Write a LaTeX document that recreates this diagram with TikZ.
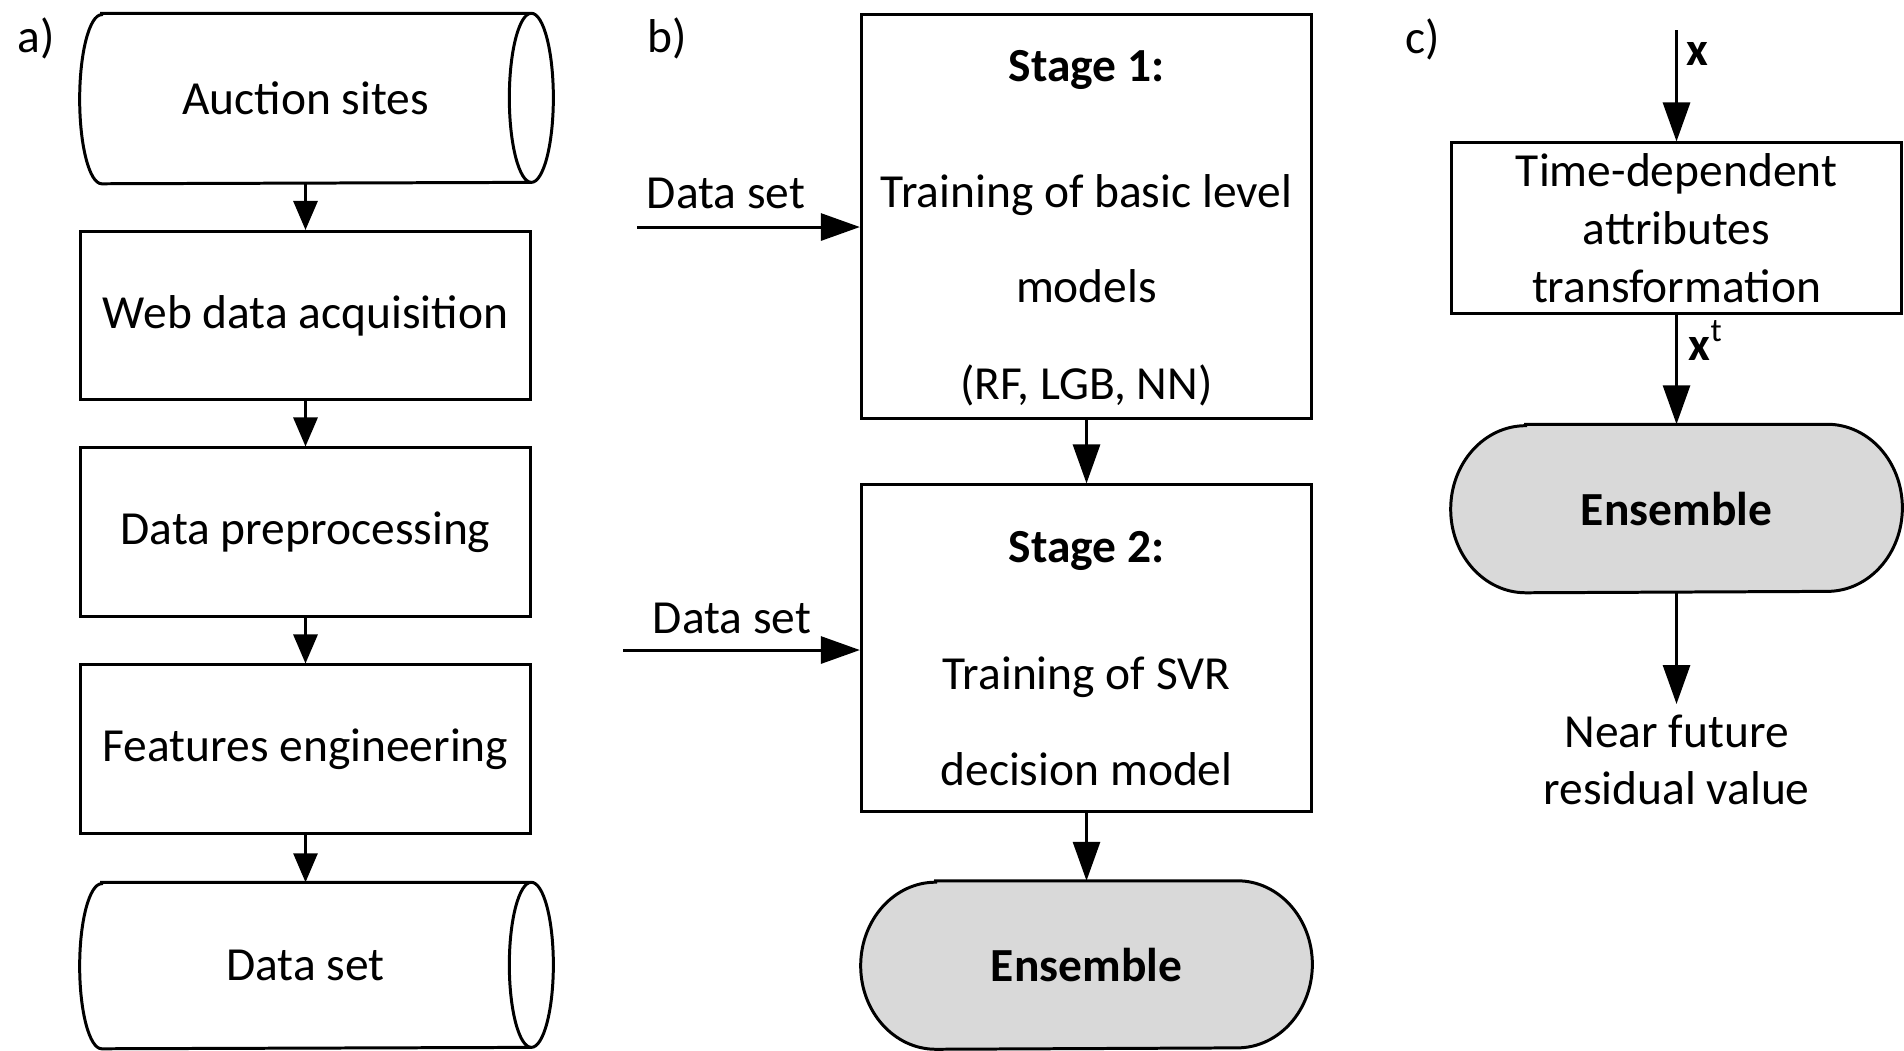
\documentclass[tikz,border=0pt]{standalone}
\usepackage{fontspec}
\setmainfont{Carlito}
\usepackage{xcolor}
\usepackage{tikz}
\usetikzlibrary{arrows.meta,backgrounds}

\definecolor{termgray}{HTML}{D9D9D9}

\begin{document}
\begin{tikzpicture}[x=0.01cm, y=0.01cm,
  every node/.style={font=\fontsize{13.5}{16.4}\selectfont},
  box/.style={draw, line width=0.85pt, minimum width=4.5cm, minimum height=1.68cm, inner sep=0pt, align=center},
  slot/.style={minimum width=4.5cm, inner sep=0pt, align=center},
  txt/.style={anchor=base, inner sep=0pt},
  arrA/.style={line width=0.85pt, -{Triangle[length=0.29cm, width=0.24cm]}},
  arrB/.style={line width=0.85pt, -{Triangle[length=0.39cm, width=0.27cm]}}]
\useasboundingbox (0,0) rectangle (1904,-1050);

% a) data collection
\node[txt, anchor=base west] (pa) at (17,-52) {a)};
\node[slot, minimum height=1.69cm] (sites) at (305.5,-98.5) {Auction sites};
\node[box] (web) at (305.5,-315.5) {Web data acquisition};
\node[box] (prep) at (305.5,-532) {Data preprocessing};
\node[box] (feat) at (305.5,-749) {Features engineering};
\node[slot, minimum height=1.65cm] (dset) at (305.5,-965.5) {Data set};

\draw[arrA] (sites) -- (web);
\draw[arrA] (web) -- (prep);
\draw[arrA] (prep) -- (feat);
\draw[arrA] (feat) -- (dset);

% b) two-stage training
\node[txt, anchor=base west] (pb) at (647,-52) {b)};
\node[box, minimum height=4.04cm] (st1) at (1086.5,-216.8) {};
\node[txt] (st1t) at (1086.5,-81) {\bfseries Stage 1:};
\node[txt] (st1a) at (1086.5,-207) {Training of basic level};
\node[txt] (st1b) at (1086.5,-302) {models};
\node[txt] (st1c) at (1086.5,-399) {(RF, LGB, NN)};

\node[box, minimum height=3.26cm] (st2) at (1086.5,-648) {};
\node[txt] (st2t) at (1086.5,-562) {\bfseries Stage 2:};
\node[txt] (st2a) at (1086.5,-689) {Training of SVR};
\node[txt] (st2b) at (1086.5,-785) {decision model};

\node[slot, minimum height=1.67cm] (ensB) at (1086.5,-965) {\bfseries Ensemble};

\coordinate (in1) at (637,-227);
\coordinate (in2) at (623,-650);
\node[txt] (ds1) at (726,-208) {Data set};
\node[txt] (ds2) at (732,-633) {Data set};

\draw[arrB] (in1) -- (in1 -| st1.west);
\draw[arrB] (in2) -- (in2 -| st2.west);
\draw[arrB] (st1) -- (st2);
\draw[arrB] (st2) -- (ensB);

% c) prediction
\node[txt, anchor=base west] (pc) at (1405,-53) {c)};
\coordinate (xin) at (1676.5,-30);
\node[box, minimum height=1.70cm] (trans) at (1676.5,-228) {Time-dependent\\attributes\\transformation};
\node[slot, minimum height=1.67cm] (ensC) at (1676.5,-508.5) {\bfseries Ensemble};
\node[inner sep=0pt, align=center, anchor=north] (resid) at (1676.5,-714) {Near future\\residual value};
\node[txt, anchor=base west] (xlab) at (1686,-65) {\bfseries x};
\node[txt, anchor=base west] (xtlab) at (1688,-360) {\bfseries x\textsuperscript{\mdseries t}};

\draw[arrB] (xin) -- (trans);
\draw[arrB] (trans) -- (ensC);
\draw[arrB, shorten >=0.1cm] (ensC) -- (resid);

% outlines behind the text
\begin{scope}[on background layer]
\draw[line width=0.85pt] ([xshift=0.22cm]sites.north west) -- (sites.north east)
  arc[start angle=90, end angle=-90, x radius=0.22cm, y radius=0.845cm]
  -- ([xshift=0.22cm]sites.south west)
  arc[start angle=270, end angle=90, x radius=0.22cm, y radius=0.845cm] -- cycle
  (sites.north east) arc[start angle=90, end angle=270, x radius=0.22cm, y radius=0.845cm];
\draw[line width=0.85pt] ([xshift=0.22cm]dset.north west) -- (dset.north east)
  arc[start angle=90, end angle=-90, x radius=0.22cm, y radius=0.825cm]
  -- ([xshift=0.22cm]dset.south west)
  arc[start angle=270, end angle=90, x radius=0.22cm, y radius=0.825cm] -- cycle
  (dset.north east) arc[start angle=90, end angle=270, x radius=0.22cm, y radius=0.825cm];
\foreach \e in {ensB,ensC}
  \draw[line width=0.85pt, fill=termgray] ([xshift=0.75cm]\e.north west) -- ([xshift=-0.75cm]\e.north east)
    arc[start angle=90, end angle=-90, x radius=0.75cm, y radius=0.835cm]
    -- ([xshift=0.75cm]\e.south west)
    arc[start angle=270, end angle=90, x radius=0.75cm, y radius=0.835cm] -- cycle;
\end{scope}
\end{tikzpicture}
\end{document}
